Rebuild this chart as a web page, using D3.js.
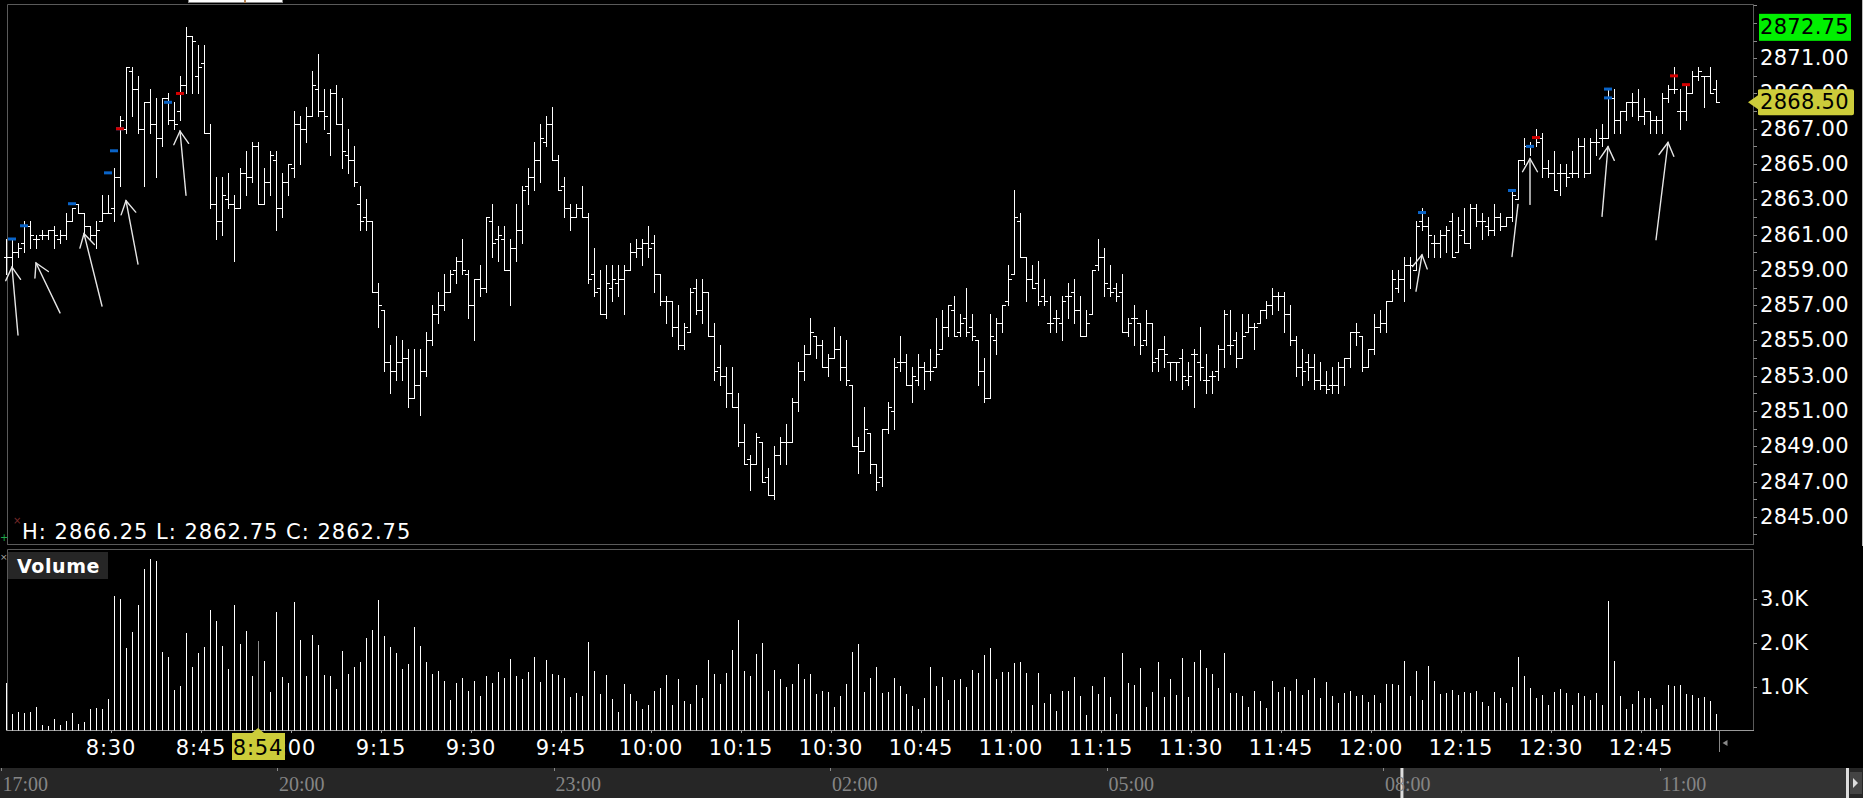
<!DOCTYPE html>
<html><head><meta charset="utf-8">
<script src="https://cdn.jsdelivr.net/npm/d3@7"></script>
<style>html,body{margin:0;padding:0;background:#000;overflow:hidden}</style>
</head><body>
<svg id="c" width="1863" height="798"></svg>
<script>
// ---- data (1-minute bars from 8:12 to 12:57) ----
const sessionStart = "8:12";
const opens = [
2859.75,2859.75,2860,2860.5,2861.5,2860.75,2861,2861,2861.25,2860.75,
2861,2861.75,2862.75,2862.25,2861.5,2861,2861.75,2862.25,2862.5,2864.25,
2867,2870.25,2869.25,2867,2868.5,2867.25,2866.5,2868.75,2867.5,2868,
2869.5,2872.25,2870,2870.75,2866.75,2862.75,2861.75,2863,2862.75,2862.5,
2864.5,2864.25,2866,2862.75,2864,2865.25,2862.5,2864,2864.75,2867.25,
2867,2867.75,2869.25,2868,2866.75,2869,2867.25,2865.5,2865.25,2862.75,
2862,2861.75,2857.75,2856.75,2853.75,2853.25,2853.75,2854,2851.75,2852.5,
2853.25,2855,2856.5,2857,2857.75,2859,2859.5,2858.75,2857,2858.5,
2858,2861.75,2860.75,2860.75,2859,2860.25,2861.25,2863.75,2864.25,2865.25,
2866.25,2867.25,2865.25,2863.75,2862.5,2862,2862.5,2862,2858.75,2858,
2856.5,2858,2858.25,2858.5,2859,2860,2860.25,2860.5,2860.5,2858.75,
2857.25,2857.25,2855.75,2854.75,2855.5,2858,2856.75,2857.75,2855.25,2853.5,
2853,2852,2851.25,2849.25,2848.25,2848,2849.25,2847.25,2846.25,2848.5,
2849.25,2849.25,2851.5,2853.25,2854.25,2855.25,2854.75,2853.5,2854,2854.5,
2853.5,2852.5,2849,2848.75,2849.75,2848,2847.25,2850,2851,2853.75,
2853.75,2852.5,2852.75,2853.5,2853.25,2853.5,2854.5,2855.75,2856.75,2855.5,
2856.25,2855.75,2855,2853.25,2851.75,2855,2856,2857.25,2858.75,2861.75,
2859.75,2858.5,2858.25,2857.5,2856,2856.25,2856,2857.5,2857.75,2856.75,
2855.25,2856.5,2859.25,2859.75,2858,2858,2857.75,2855.5,2856.25,2856,
2855,2856,2854,2854.5,2853.75,2853.75,2854,2852.75,2854.25,2853.75,
2852.75,2853,2853.25,2854.5,2854.75,2855,2854,2855.5,2855.75,2856,
2856.75,2857,2857.5,2857.5,2856.5,2855,2853.5,2853.75,2853.5,2852.75,
2852.5,2852.5,2852.5,2853.5,2854,2855.5,2855.25,2853.5,2854.5,2855.75,
2856,2857.25,2858,2858.5,2859.25,2859,2861.75,2861.5,2860.5,2860.5,
2861,2861.75,2860,2861.25,2860.5,2862.5,2861.75,2861.5,2861.25,2862,
2861.5,2862,2863,2865.25,2866,2866.5,2866.5,2864.75,2864.5,2864.5,
2864.5,2864.5,2864.5,2866,2864.5,2866.25,2866.5,2866.5,2868.75,2867.5,
2868,2868.5,2868.5,2867.75,2868,2867.5,2867.5,2868.75,2869.25,2868,
2868,2869,2870,2870,2870,2869.25];
const highs = [
2860.75,2860.75,2860.5,2861.75,2861.75,2861,2861.25,2861.25,2861.5,2861.25,
2862.25,2862.5,2862.75,2862.25,2861.5,2861.75,2863.25,2863.25,2864.75,2867.75,
2870.5,2870.5,2870,2868.5,2869.25,2868.75,2868.75,2869,2868.5,2870,
2872.75,2872.25,2871.75,2871.75,2867.25,2864.25,2864.25,2864.5,2863.25,2864.75,
2865.75,2866.25,2866.25,2864.75,2865.75,2865.75,2864.5,2865,2868,2867.75,
2868.25,2870.25,2871.25,2869.25,2869.25,2869.5,2868.75,2867,2866,2863.75,
2863,2861.75,2858.25,2856.75,2854.75,2855.25,2855,2854.5,2854.5,2854.5,
2855.5,2857,2857.75,2858.75,2859,2859.75,2860.75,2859,2858.5,2859.25,
2862,2862.75,2861.5,2861.5,2860.75,2862.75,2863.75,2864.75,2866.25,2867.25,
2867.75,2868.25,2865.5,2864.25,2862.75,2862.75,2863.75,2862.25,2860.25,2859,
2859.25,2859.25,2859.25,2859.25,2860.5,2860.75,2860.75,2861.5,2861,2858.75,
2857.5,2857.25,2857,2856,2858,2858.5,2858.5,2857.75,2856,2854.75,
2853.5,2853.5,2852,2850.25,2848.5,2849.75,2849.25,2847.75,2849,2849.5,
2850.25,2851.75,2853.75,2854.75,2856.25,2855.25,2855,2854.25,2855.75,2855.25,
2855,2852.5,2849.5,2851.25,2849.75,2848,2850,2851.5,2854,2855.25,
2854.25,2853.5,2854.25,2853.75,2854.5,2856.25,2856.75,2857,2857.5,2856.5,
2858,2856.5,2855,2854,2856.5,2856.25,2857,2859.25,2863.5,2862.25,
2859.75,2859.25,2859.5,2858.5,2857.5,2856.75,2857.5,2858.25,2858.5,2857.5,
2856.75,2859,2860.75,2860.25,2859.25,2858.25,2858.75,2856.25,2857,2856,
2856.75,2856,2854.5,2855.25,2853.75,2853.75,2854.5,2853.75,2854.5,2855.75,
2854.25,2853.25,2854.75,2856.75,2856.75,2855.5,2856.5,2856.5,2856,2856.75,
2857.25,2858,2857.75,2857.75,2857,2855.25,2854.5,2854.25,2854.25,2853.75,
2853.25,2853.5,2853.75,2854,2855.5,2856,2855.25,2854.5,2856.5,2856.75,
2857.25,2859,2859,2859.75,2859.75,2861.75,2862.5,2862,2861,2861.25,
2861.5,2862.25,2862,2862.5,2862.75,2862.75,2862.25,2862,2862.75,2862.25,
2862,2863.5,2865.25,2866.5,2866.25,2867,2866.75,2865.25,2865.75,2865,
2865,2865.75,2866.5,2866.5,2866.5,2867,2867.25,2869.25,2869.25,2868,
2868.5,2869,2869.25,2868.75,2868,2867.75,2869,2869.5,2870.5,2869.25,
2869.5,2870.25,2870.5,2870,2870.5,2869.75];
const lows = [
2858.75,2859,2859.75,2860,2860.25,2860.25,2860.75,2860.75,2860.25,2860.5,
2860.75,2861.75,2862.25,2861,2860.75,2860.25,2861.75,2862.25,2861.75,2863.75,
2866.75,2867.75,2866.75,2863.75,2866.75,2864.25,2866,2867.25,2867,2867.5,
2869,2869,2869,2866.75,2862.5,2860.75,2861,2862.5,2859.5,2862.5,
2863.25,2864,2862.75,2862.75,2863.25,2861.25,2862,2863.25,2864.25,2865,
2866.25,2867.75,2867.75,2867,2865.5,2867.25,2864.75,2864.5,2863.75,2861.25,
2861.25,2857.75,2855.75,2853.25,2852,2852.75,2852.75,2851.25,2851.75,2850.75,
2853,2854.75,2856,2856.75,2857.75,2858.25,2858.75,2856.25,2855,2857.5,
2857.75,2859.75,2859.5,2859,2857,2859.5,2860.5,2862.75,2863.5,2864,
2866,2865.25,2863.5,2862,2861.25,2862,2862,2858.25,2857.5,2856.5,
2856.25,2857.25,2857.5,2856.5,2859,2859.75,2859.25,2859.75,2857.75,2857,
2856,2855.25,2854.5,2854.5,2855.5,2856.5,2856,2855.25,2852.75,2852.5,
2851.25,2851.25,2849,2848,2846.5,2848,2847,2846.25,2846,2848,
2848,2849.25,2851,2852.75,2854.25,2854,2853.5,2853,2854,2852.75,
2852.5,2849,2847.5,2848.75,2847.5,2846.5,2846.75,2849.75,2850,2853.25,
2852.5,2851.5,2852.5,2852.25,2852.75,2853.5,2854.5,2855.25,2855.25,2855.25,
2855.25,2855,2852.5,2851.5,2851.75,2854.25,2855.5,2857,2858.75,2859.75,
2857.25,2858,2857,2857,2855.5,2855.5,2855,2856.25,2856,2855.25,
2855.25,2856.5,2859,2857.5,2857.5,2857.25,2855.5,2855.25,2854.75,2854.25,
2854.75,2853.25,2853.25,2853.5,2852.75,2852.75,2852.25,2852.5,2851.25,2852.75,
2852,2852,2852.75,2853.5,2854.25,2853.5,2854,2855.5,2854.5,2856,
2856.25,2856.5,2856.75,2855.5,2854.75,2853,2852.5,2852.75,2852.25,2852.25,
2852,2852,2852,2852.5,2853.5,2854.75,2853.25,2853.5,2854.25,2855.5,
2855.5,2857.25,2857.75,2857.25,2858,2859,2861.25,2859.75,2859.75,2859.75,
2860,2859.75,2860,2860.5,2860.25,2861.5,2860.75,2861,2861,2861.25,
2861.5,2861.75,2863,2865,2865.5,2866,2864.25,2864.25,2863.5,2863.25,
2863.75,2864.25,2864.25,2864.25,2864.5,2865.5,2866,2866.5,2866.75,2866.75,
2867.5,2867.75,2867.5,2867.25,2866.75,2866.75,2866.75,2868.5,2869,2867,
2867.5,2869,2869.75,2868.25,2869,2868.5];
const closes = [
2859.75,2860,2860.25,2861.5,2861,2860.75,2861,2861.25,2861,2861,
2861.75,2862.5,2862.25,2861.5,2861,2861.25,2862.25,2862.25,2864.25,2867.5,
2870.5,2869.25,2867,2868.5,2867.25,2866.5,2868.75,2867.5,2867.25,2869.5,
2872.25,2872,2870.5,2866.75,2862.75,2861.75,2863.25,2862.75,2862.5,2864.5,
2864.25,2866,2862.75,2864,2865.5,2862.5,2864,2865,2867.25,2867,
2867.75,2869.5,2868,2867.75,2869,2867.25,2865.75,2865.25,2864,2861.75,
2861.75,2857.75,2857,2853.75,2853.25,2853.75,2854,2851.75,2852.5,2853.25,
2855,2856.5,2857,2857.75,2858.75,2859.5,2859,2857,2858.5,2858,
2862,2860.5,2861,2859,2860.25,2861.25,2863.5,2864.25,2865.25,2866.5,
2867.25,2865.25,2863.5,2862.5,2862,2862.5,2862,2858.5,2857.75,2856.5,
2858.25,2858.5,2858.5,2859,2860,2860.25,2860.5,2860.25,2858.75,2857.25,
2857.25,2855.75,2854.75,2855.75,2857.75,2856.75,2857.75,2855.25,2853.25,2853,
2852,2851.25,2849.25,2848,2848,2849.5,2847,2846.25,2848.5,2849.25,
2849.25,2851.5,2853.25,2854.25,2855.5,2854.75,2853.5,2854,2854.5,2853.5,
2852.75,2849,2848.75,2850,2848,2847,2850,2851.25,2853.5,2853.75,
2852.5,2853,2853.5,2853.25,2853.25,2854.25,2855.75,2857,2855.25,2856,
2855.5,2855.25,2853.25,2851.75,2855.25,2856,2857,2858.5,2862,2859.75,
2858.5,2858,2857.25,2857.25,2856,2856.25,2857.25,2857.5,2856.75,2855.25,
2856,2859,2859.75,2858.25,2857.75,2857.5,2855.5,2856,2856.25,2854.75,
2856,2853.75,2854.5,2854.25,2853.75,2853.75,2853,2853,2854.25,2853.5,
2852.75,2853,2854.5,2856.5,2854.75,2854,2855.25,2855.75,2855.75,2856.75,
2857,2857.5,2857.5,2856.5,2855,2853.5,2853.25,2853.5,2852.75,2852.5,
2852.25,2852.5,2853.5,2854,2855.5,2855.5,2853.5,2854.5,2855.75,2856,
2857.25,2858.5,2858.5,2859.25,2859.25,2861.5,2861.5,2861,2860.5,2861,
2861.25,2859.75,2861,2860.5,2862.5,2861.75,2861.75,2861.25,2862,2861.5,
2862,2863.25,2865.25,2866,2866,2866.25,2864.75,2864.5,2863.5,2864.5,
2864.25,2864.5,2866,2864.5,2866.25,2866.25,2866.5,2869.25,2867.5,2868,
2868.5,2868.5,2867.75,2868,2867.5,2867.5,2868.75,2869.25,2869.25,2868,
2869,2870,2870.25,2870,2869,2868.5];
const volumes = [
1100,390,440,420,440,550,140,110,280,140,
230,410,170,200,500,520,500,730,3070,3000,
1890,2250,2860,3690,3900,3870,1800,1680,930,1020,
2220,1450,1770,1910,2750,2500,1930,1410,2860,1980,
2270,1250,2050,1580,890,2700,1230,1100,2930,2070,
1250,2180,1950,1270,1250,950,1820,1300,1450,1570,
2110,2300,2980,2160,1910,1770,1420,1520,2360,1930,
1570,1300,1360,1140,700,1090,1200,910,1140,800,
1250,1090,1340,1200,1640,1250,1180,1340,1680,1110,
1610,1300,1270,1200,770,860,800,2020,1360,840,
1270,730,430,1070,840,680,500,590,910,980,
1270,590,1180,680,610,1050,750,1610,1300,1070,
1320,1840,2520,1360,1250,1750,2000,910,1390,1180,
1000,1070,1520,1180,1300,840,910,890,550,800,
1070,1800,1980,890,1200,1450,860,890,1200,1020,
840,570,500,750,1450,1020,1230,700,1160,1180,
1000,1390,1320,1730,1890,1180,1340,1340,1550,1570,
1320,590,1320,640,840,450,910,910,1230,800,
360,1020,840,1230,770,390,1770,1090,1050,1430,
550,890,1570,770,1180,820,1660,770,1570,1840,
1430,1300,980,1770,860,860,800,550,910,680,
520,1140,890,1000,910,1180,820,930,1200,750,
1110,800,640,860,910,800,820,660,820,640,
1070,1070,1050,1590,800,1360,700,1480,1140,840,
860,930,820,890,860,910,660,570,890,750,
640,1000,1680,1250,980,750,820,590,890,950,
860,590,860,800,700,860,590,2950,1590,800,
500,610,910,750,750,500,590,1050,1020,1050,
840,820,750,770,680,390];

const priceTicks = [2845,2847,2849,2851,2853,2855,2857,2859,2861,2863,2865,2867,2869,2871];
const volumeTicks = [1000, 2000, 3000];
const volumeTickLabels = ["1.0K","2.0K","3.0K"];
const timeTicks = ["8:30","8:45","9:00","9:15","9:30","9:45","10:00","10:15","10:30","10:45","11:00","11:15","11:30","11:45","12:00","12:15","12:30","12:45"];
const overviewLabels = ["17:00","20:00","23:00","02:00","05:00","08:00","11:00"];
const sessionHigh = 2872.75;
const cursorTime = "8:54";
const cursorText = "H: 2866.25 L: 2862.75 C: 2862.75";
// signal markers: [bar index, price, kind]
const markerBars = [1,3.2,11.5,17.5,18.5,19,19.4,27.7,29.6,236,251.6,254.4,255.1,267.4,267.4,278,280.7];
const markerPrices = [2860.75,2861.5,2862.75,2864.5,2865.75,2867,2867,2868.5,2869,2862.25,2863.5,2866,2866.5,2869.25,2868.75,2870,2869.5];
const markerKinds = ["b","b","b","b","b","b","r","b","r","b","b","b","r","b","b","r","r"];
// annotation arrows: tail (bar, price) -> head (bar, price)
const arrowTailBar = [2.88,9.05,16.38,22.38,30.38,235.95,251.55,254.38,266.38,275.45];
const arrowTailPrice = [2855.31,2856.56,2856.95,2859.33,2863.23,2857.79,2859.76,2862.71,2862.03,2860.71];
const arrowHeadBar = [1.62,5.55,13.17,20.5,29.0,236.17,252.12,254.55,267.33,277.33];
const arrowHeadPrice = [2859.16,2859.39,2861.05,2862.92,2866.87,2859.85,2862.71,2865.3,2865.98,2866.22];
const arrowHasHead = [1,1,1,1,1,1,0,1,1,1];

// ---- setup ----
const svg = d3.select("#c");
const FONT = "'DejaVu Sans', Verdana, sans-serif";
const pt = s => { const [h,m] = s.split(":").map(Number); return new Date(2019,0,2,h,m); };
const t0 = pt(sessionStart);

const L = 7, R = 1753, PT = 4.5, PB = 544, VT = 549, VB = 730.5;
const x = d3.scaleTime().domain([pt("8:30"), pt("12:45")]).range([111, 1641]);
const barX = i => Math.round(x(d3.timeMinute.offset(t0, i)) + 3) + 0.5;
const barXf = i => x(d3.timeMinute.offset(t0, i)) + 3;
const y = d3.scaleLinear().domain([2845, 2871]).range([516.8, 58.2]);
const yv = d3.scaleLinear().domain([0, 3000]).range([731, 599]);

svg.append("rect").attr("width",1863).attr("height",798).attr("fill","#000");

// top tabs
svg.append("rect").attr("x",188.5).attr("y",-2).attr("width",56).attr("height",4.5).attr("fill","#fff").attr("stroke","#888");
svg.append("rect").attr("x",245.5).attr("y",-2).attr("width",37).attr("height",4.5).attr("fill","#fff").attr("stroke","#888");
svg.append("line").attr("x1",245).attr("x2",245).attr("y1",0).attr("y2",3).attr("stroke","#e08020");

// panel frames
const frame = "#5a5a5a";
svg.append("path").attr("d",`M${L+0.5},${PB}V${PT}H${R+0.5}V${PB}`).attr("fill","none").attr("stroke",frame);
svg.append("line").attr("x1",L).attr("x2",R+1).attr("y1",PB+0.5).attr("y2",PB+0.5).attr("stroke",frame);
svg.append("path").attr("d",`M${L+0.5},${VB}V${VT+0.5}H${R+0.5}V${VB}`).attr("fill","none").attr("stroke",frame);
svg.append("line").attr("x1",L).attr("x2",R+1).attr("y1",VB).attr("y2",VB).attr("stroke","#9a9a9a");
// far right edge
svg.append("line").attr("x1",1862.5).attr("x2",1862.5).attr("y1",0).attr("y2",546).attr("stroke","#bbb");

// clip
svg.append("clipPath").attr("id","pc").append("rect").attr("x",4).attr("y",PT+1).attr("width",R-4).attr("height",PB-PT-1);
svg.append("clipPath").attr("id","vc").append("rect").attr("x",4).attr("y",VT+1).attr("width",R-4).attr("height",VB-VT);

// ---- OHLC bars ----
const gp = svg.append("g").attr("clip-path","url(#pc)");
const bars = gp.selectAll("g.bar").data(opens.map((o,i)=>({i,o,h:highs[i],l:lows[i],c:closes[i]}))).join("g");
bars.append("line").attr("x1",d=>barX(d.i)).attr("x2",d=>barX(d.i))
  .attr("y1",d=>Math.round(y(d.h))).attr("y2",d=>Math.round(y(d.l))+1).attr("stroke","#fff").attr("stroke-width",1);
bars.append("line").attr("x1",d=>barX(d.i)-3.5).attr("x2",d=>barX(d.i))
  .attr("y1",d=>Math.round(y(d.o))+0.5).attr("y2",d=>Math.round(y(d.o))+0.5).attr("stroke","#fff");
bars.append("line").attr("x1",d=>barX(d.i)).attr("x2",d=>barX(d.i)+3.5)
  .attr("y1",d=>Math.round(y(d.c))+0.5).attr("y2",d=>Math.round(y(d.c))+0.5).attr("stroke","#fff");

// markers
gp.selectAll("rect.mk").data(markerBars.map((b,k)=>({b,p:markerPrices[k],k:markerKinds[k]}))).join("rect")
  .attr("x",d=>barXf(d.b)-4).attr("y",d=>y(d.p)-1.5).attr("width",8).attr("height",3)
  .attr("fill",d=>d.k==="r"?"#d40000":"#0a64c8");

// arrows
const ag = gp.append("g").attr("stroke","#e6e6e6").attr("stroke-width",1.4).attr("fill","none").attr("stroke-linecap","round");
arrowTailBar.forEach((tb,k)=>{
  const x1=barXf(tb), y1=y(arrowTailPrice[k]), x2=barXf(arrowHeadBar[k]), y2=y(arrowHeadPrice[k]);
  ag.append("line").attr("x1",x1).attr("y1",y1).attr("x2",x2).attr("y2",y2);
  if (arrowHasHead[k]) {
    const a = Math.atan2(y1-y2, x1-x2), len = 15, sp = 0.52;
    ag.append("path").attr("d",`M${x2+len*Math.cos(a-sp)},${y2+len*Math.sin(a-sp)}L${x2},${y2}L${x2+len*Math.cos(a+sp)},${y2+len*Math.sin(a+sp)}`);
  }
});

// ---- price axis ----
const ax = svg.append("g");
d3.range(2844, 2875).forEach(p => {
  if (y(p) < PT || y(p) > PB) return;
  ax.append("line").attr("x1",R+0.5).attr("x2",R+4).attr("y1",Math.round(y(p))+0.5).attr("y2",Math.round(y(p))+0.5).attr("stroke","#8a8a8a");
});
ax.selectAll("text.pl").data(priceTicks).join("text")
  .attr("x",1760).attr("y",d=>y(d)).attr("dominant-baseline","central")
  .attr("fill","#fff").attr("font-family",FONT).attr("font-size",21).attr("letter-spacing",0.3)
  .text(d=>d.toFixed(2));
// session high label
ax.append("rect").attr("x",1759).attr("y",y(sessionHigh)-13.5).attr("width",92).attr("height",27).attr("fill","#00f000");
ax.append("text").attr("x",1760).attr("y",y(sessionHigh)).attr("dominant-baseline","central")
  .attr("fill","#000").attr("font-family",FONT).attr("font-size",21).attr("letter-spacing",0.3).text(sessionHigh.toFixed(2));
// last price label
const last = closes[closes.length-1], yl = y(last);
ax.append("path").attr("d",`M1748,${yl}L1758,${yl-7}V${yl-12}Q1758,${yl-13} 1760,${yl-13}H1852Q1854,${yl-13} 1854,${yl-11}V${yl+11}Q1854,${yl+13} 1852,${yl+13}H1760Q1758,${yl+13} 1758,${yl+12}V${yl+7}Z`)
  .attr("fill","#cccc3a");
ax.append("text").attr("x",1760).attr("y",yl).attr("dominant-baseline","central")
  .attr("fill","#000").attr("font-family",FONT).attr("font-size",21).attr("letter-spacing",0.3).text(last.toFixed(2));

// cursor readout
svg.append("text").attr("x",22).attr("y",532).attr("dominant-baseline","central")
  .attr("fill","#fff").attr("font-family",FONT).attr("font-size",21).attr("letter-spacing",1.0).text(cursorText);
svg.append("text").attr("x",13).attr("y",524).attr("fill","#7a2a2a").attr("font-family",FONT).attr("font-size",10).text("×");
svg.append("text").attr("x",0).attr("y",541).attr("fill","#1fa84a").attr("font-family",FONT).attr("font-size",10).text("+");
svg.append("text").attr("x",0).attr("y",560).attr("fill","#aaa").attr("font-family",FONT).attr("font-size",9).text("×");

// ---- volume ----
const gv = svg.append("g").attr("clip-path","url(#vc)");
const cursorIdx = d3.timeMinute.count(t0, pt(cursorTime));
gv.selectAll("line.v").data(volumes).join("line")
  .attr("x1",(d,i)=>barX(i)).attr("x2",(d,i)=>barX(i))
  .attr("y1",VB).attr("y2",d=>Math.round(yv(d)))
  .attr("stroke",(d,i)=>i===cursorIdx?"#8c8c8c":"#fff").attr("stroke-width",1);
svg.append("rect").attr("x",8).attr("y",552).attr("width",100).attr("height",27).attr("fill","#262626");
svg.append("text").attr("x",17).attr("y",566).attr("dominant-baseline","central")
  .attr("fill","#fff").attr("font-family",FONT).attr("font-weight","bold").attr("font-size",19).attr("letter-spacing",0.6).text("Volume");
volumeTicks.forEach((v,k)=>{
  svg.append("line").attr("x1",R+0.5).attr("x2",R+4).attr("y1",Math.round(yv(v))+0.5).attr("y2",Math.round(yv(v))+0.5).attr("stroke","#8a8a8a");
  svg.append("text").attr("x",1760).attr("y",yv(v)).attr("dominant-baseline","central")
    .attr("fill","#fff").attr("font-family",FONT).attr("font-size",21).attr("letter-spacing",0.3).text(volumeTickLabels[k]);
});

// ---- time axis ----
timeTicks.forEach(s=>{
  const tx = Math.round(x(pt(s)))+0.5;
  svg.append("line").attr("x1",tx).attr("x2",tx).attr("y1",VB).attr("y2",VB+2.5).attr("stroke","#9a9a9a");
  svg.append("text").attr("x",x(pt(s))).attr("y",748).attr("text-anchor","middle").attr("dominant-baseline","central")
    .attr("fill","#fff").attr("font-family",FONT).attr("font-size",21).attr("letter-spacing",0.8).text(s);
});
// cursor time label
const cx = barXf(cursorIdx);
svg.append("path").attr("d",`M${cx},728L${cx+6},733H${cx+27}V760H${cx-26}V733H${cx-6}Z`).attr("fill","#cccc3a");
svg.append("text").attr("x",cx).attr("y",747.5).attr("text-anchor","middle").attr("dominant-baseline","central")
  .attr("fill","#000").attr("font-family",FONT).attr("font-size",21).attr("letter-spacing",0.8).text(cursorTime);
// now marker
const nx = Math.round(x(d3.timeMinute.offset(t0, opens.length)))+0.5;
svg.append("line").attr("x1",nx).attr("x2",nx).attr("y1",VB).attr("y2",752).attr("stroke","#888");
svg.append("path").attr("d",`M${nx+3},743l5,-3v6z`).attr("fill","#888");

// ---- overview strip ----
const ox = d3.scaleTime().domain([new Date(2019,0,1,17,0), new Date(2019,0,2,11,0)]).range([0.5, 1659.5]);
const ovDates = overviewLabels.map((s,k)=>d3.timeHour.offset(new Date(2019,0,1,17,0), 3*k));
svg.append("rect").attr("x",0).attr("y",768).attr("width",1863).attr("height",30).attr("fill","#262626");
const wx = ox(t0);
svg.append("rect").attr("x",wx).attr("y",768).attr("width",1849-wx).attr("height",30).attr("fill","#333");
svg.append("rect").attr("x",wx-1).attr("y",768).attr("width",3).attr("height",30).attr("fill","#ddd");
svg.append("rect").attr("x",1846).attr("y",768).attr("width",3).attr("height",30).attr("fill","#ddd");
svg.append("rect").attr("x",1850).attr("y",772).attr("width",12).attr("height",22).attr("fill","#444");
svg.append("path").attr("d","M1853,778l5,5l-5,5z").attr("fill","#ddd");
ovDates.forEach((d,k)=>{
  const tx = Math.round(ox(d))+0.5;
  svg.append("line").attr("x1",tx).attr("x2",tx).attr("y1",768).attr("y2",771).attr("stroke","#888");
  svg.append("text").attr("x",ox(d)+2).attr("y",791).attr("fill","#858585")
    .attr("font-family","'Liberation Serif', 'DejaVu Serif', serif").attr("font-size",20).text(overviewLabels[k]);
});
</script>
</body></html>
